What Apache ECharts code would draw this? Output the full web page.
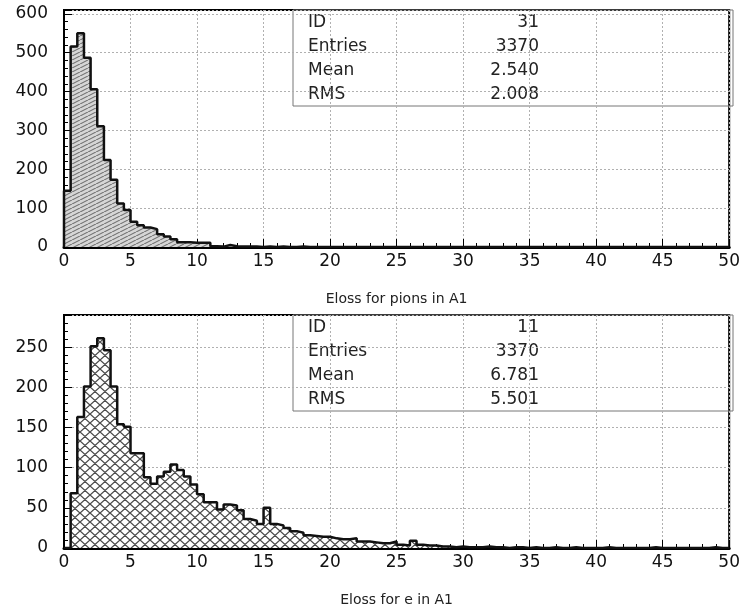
<!DOCTYPE html>
<html>
<head>
<meta charset="utf-8">
<script src="https://cdn.jsdelivr.net/npm/echarts@6/dist/echarts.min.js"></script>
<style>
html, body { margin: 0; padding: 0; background: #fff; }
#main { width: 743px; height: 608px; }
</style>
</head>
<body>
<div id="main"></div>
<script>
// histogram bins: 100 bins of width 0.5 from 0 to 50
var binWidth = 0.5;
var xTicks = [0, 5, 10, 15, 20, 25, 30, 35, 40, 45, 50];

var pionCounts = [
    145, 516, 550, 487, 406, 311, 224, 173, 112, 95,
    65, 56, 50, 46, 33, 27, 20, 12, 12, 11,
    11, 11, 2, 1, 5, 2, 1, 1, 1, 0,
    1, 0, 1, 0, 0, 1, 0, 0, 0, 0,
    0, 0, 0, 0, 0, 0, 0, 0, 0, 0,
    0, 0, 0, 0, 0, 0, 0, 0, 0, 0,
    0, 0, 0, 0, 0, 0, 0, 0, 0, 0,
    0, 0, 0, 0, 0, 0, 0, 0, 0, 0,
    0, 0, 0, 0, 0, 0, 0, 0, 0, 0,
    0, 0, 0, 0, 0, 0, 0, 0, 0, 0
];
var eCounts = [
    0, 68, 163, 201, 251, 261, 246, 201, 154, 151,
    118, 118, 88, 80, 89, 95, 104, 97, 89, 79,
    67, 57, 57, 48, 54, 53, 47, 36, 34, 30,
    50, 30, 28, 25, 21, 19, 16, 15, 14, 14,
    12, 11, 11, 12, 8, 8, 7, 6, 6, 8,
    4, 3, 9, 4, 3, 3, 2, 2, 1, 2,
    1, 1, 1, 2, 1, 1, 0, 1, 1, 0,
    1, 0, 0, 1, 0, 0, 1, 0, 0, 0,
    0, 1, 0, 0, 0, 0, 0, 0, 1, 0,
    0, 0, 0, 0, 0, 0, 0, 1, 0, 0
];

var statNames = ['ID', 'Entries', 'Mean', 'RMS'];
var pionStats = ['31', '3370', '2.540', '2.008'];
var eStats = ['11', '3370', '6.781', '5.501'];
var axisTitles = ['Eloss for pions in A1', 'Eloss for e in A1'];

// step outline points: left edge of each bin, plus closing point
function stepPoints(counts) {
    var pts = [[0, 0]];
    for (var i = 0; i < counts.length; i++) {
        pts.push([i * binWidth, counts[i]]);
    }
    pts.push([counts.length * binWidth, counts[counts.length - 1]]);
    return pts;
}

// hatch pattern tiles
function makePattern(w, h, bg, lineColor, lw, cross) {
    var c = document.createElement('canvas');
    c.width = w;
    c.height = h;
    var ctx = c.getContext('2d');
    ctx.fillStyle = bg;
    ctx.fillRect(0, 0, w, h);
    ctx.strokeStyle = lineColor;
    ctx.lineWidth = lw;
    ctx.beginPath();
    for (var k = -1; k <= 1; k++) {
        ctx.moveTo(k * w, h);
        ctx.lineTo(k * w + w, 0);
        if (cross) {
            ctx.moveTo(k * w, 0);
            ctx.lineTo(k * w + w, h);
        }
    }
    ctx.stroke();
    return c;
}
var hatchPion = makePattern(8, 4, '#d6d6d6', '#707070', 1.1, false);
var hatchE = makePattern(10, 9, '#ffffff', '#4a4a4a', 1.3, true);

var font = '"DejaVu Sans", sans-serif';

function xAxisOpt(gridIndex, title) {
    return {
        type: 'value',
        gridIndex: gridIndex,
        min: 0,
        max: 50,
        interval: 5,
        name: title,
        nameLocation: 'middle',
        nameGap: 45,
        nameTextStyle: { fontFamily: font, fontSize: 14, color: '#222' },
        axisLine: { lineStyle: { color: '#000', width: 3 } },
        axisTick: { inside: true, length: 8, lineStyle: { color: '#000', width: 1 } },
        minorTick: { show: true, splitNumber: 5, length: 4, lineStyle: { color: '#000', width: 1 } },
        axisLabel: { fontFamily: font, fontSize: 17, color: '#111', margin: 6 },
        splitLine: { show: true, lineStyle: { color: '#b0b0b0', type: [2, 2], width: 1 } }
    };
}
function yAxisOpt(gridIndex, max, interval) {
    return {
        type: 'value',
        gridIndex: gridIndex,
        min: 0,
        max: max,
        interval: interval,
        axisLine: { show: true, lineStyle: { color: '#000', width: 2 } },
        axisTick: { inside: true, length: 8, lineStyle: { color: '#000', width: 1 } },
        minorTick: { show: true, splitNumber: 5, length: 4, lineStyle: { color: '#000', width: 1 } },
        axisLabel: { fontFamily: font, fontSize: 17, color: '#111', margin: 16, showMaxLabel: false },
        splitLine: { show: true, lineStyle: { color: '#b0b0b0', type: [2, 2], width: 1 } }
    };
}

function statBox(top, values) {
    var items = [{
        type: 'rect',
        shape: { x: 293, y: top, width: 440, height: 96 },
        style: { fill: 'none', stroke: '#777', lineWidth: 1 }
    }];
    statNames.forEach(function (name, i) {
        var y = top + 13 + i * 23.7;
        items.push({
            type: 'text', x: 308, y: y,
            style: { text: name, font: '17px ' + font, fill: '#222', verticalAlign: 'middle', textVerticalAlign: 'middle' }
        });
        items.push({
            type: 'text', x: 539, y: y,
            style: { text: values[i], font: '17px ' + font, fill: '#222', align: 'right', textAlign: 'right', verticalAlign: 'middle', textVerticalAlign: 'middle' }
        });
    });
    return items;
}

var chart = echarts.init(document.getElementById('main'));
var option = {
    animation: false,
    backgroundColor: '#fff',
    grid: [
        { left: 64, right: 10, top: 10, height: 237, show: true, borderColor: '#000', borderWidth: 2, backgroundColor: 'transparent' },
        { left: 64, right: 10, top: 315, height: 240, show: true, borderColor: '#000', borderWidth: 2, backgroundColor: 'transparent' }
    ],
    xAxis: [xAxisOpt(0, axisTitles[0]), xAxisOpt(1, axisTitles[1])],
    yAxis: [yAxisOpt(0, 610, 100), yAxisOpt(1, 290, 50)],
    series: [{
        type: 'line',
        xAxisIndex: 0,
        yAxisIndex: 0,
        step: 'end',
        symbol: 'none',
        lineStyle: { color: '#111', width: 2.5 },
        areaStyle: { color: { image: hatchPion, repeat: 'repeat' }, opacity: 1 },
        data: stepPoints(pionCounts)
    }, {
        type: 'line',
        xAxisIndex: 1,
        yAxisIndex: 1,
        step: 'end',
        symbol: 'none',
        lineStyle: { color: '#111', width: 2.5 },
        areaStyle: { color: { image: hatchE, repeat: 'repeat' }, opacity: 1 },
        data: stepPoints(eCounts)
    }],
    graphic: statBox(10, pionStats).concat(statBox(315, eStats))
};
chart.setOption(option);
window.addEventListener('resize', function () {
    chart.resize();
});
</script>
</body>
</html>
